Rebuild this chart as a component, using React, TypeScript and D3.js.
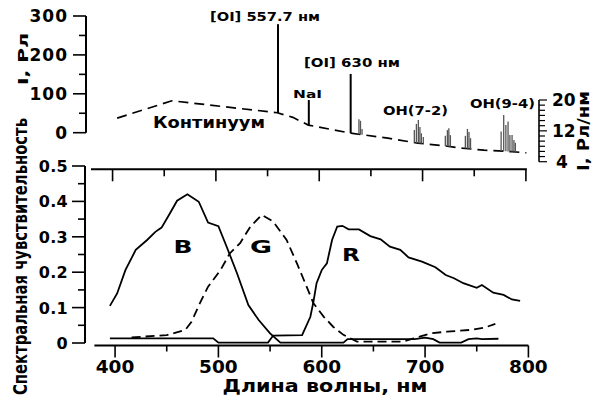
import React from 'react';
import * as d3 from 'd3';

const W = 594;
const H = 401;
const FONT = '"DejaVu Sans", Arial, sans-serif';

// spectral sensitivity (B, G, R channels)
const blueWl = [395, 402, 410, 420, 431, 439, 445, 453, 460, 470, 481, 490, 500, 508, 518, 529, 539, 550, 560, 621, 625, 690, 700, 708, 714, 735, 742, 750, 755, 771];
const blueVal = [0.105, 0.14, 0.206, 0.263, 0.291, 0.314, 0.326, 0.366, 0.402, 0.42, 0.399, 0.34, 0.33, 0.272, 0.197, 0.107, 0.065, 0.027, 0.001, 0.001, 0.011, 0.011, 0.015, 0.011, 0.001, 0.001, 0.011, 0.013, 0.011, 0.012];
const greenWl = [416, 450, 468, 474, 482, 490, 502, 511, 521, 531, 542, 553, 566, 576, 584, 592, 602, 611, 621, 634, 679, 689, 705, 721, 744, 757, 768];
const greenVal = [0.016, 0.022, 0.037, 0.06, 0.112, 0.159, 0.206, 0.253, 0.282, 0.329, 0.362, 0.343, 0.291, 0.225, 0.169, 0.112, 0.074, 0.046, 0.023, 0.004, 0.004, 0.013, 0.027, 0.032, 0.037, 0.043, 0.054];
const redWl = [395, 495, 500, 548, 553, 581, 589, 592, 595, 600, 605, 610, 615, 620, 626, 636, 647, 657, 666, 676, 684, 697, 710, 720, 728, 737, 750, 755, 766, 776, 784, 792];
const redVal = [0.013, 0.013, 0.001, 0.001, 0.021, 0.022, 0.074, 0.117, 0.169, 0.206, 0.225, 0.291, 0.329, 0.331, 0.321, 0.321, 0.302, 0.293, 0.272, 0.263, 0.242, 0.23, 0.214, 0.192, 0.183, 0.169, 0.156, 0.164, 0.142, 0.136, 0.123, 0.119];

// night sky continuum, Rl/nm (right axis)
const contWl = [402, 455, 557, 572, 587, 628, 664, 693, 716, 736, 757, 784, 798];
const contVal = [15.3, 19.8, 16.7, 15.5, 13.5, 11.4, 10.1, 8.8, 8.2, 7.5, 7.0, 6.6, 6.3];

// atomic emission lines, Rl (left axis)
const lineWl = [557.7, 587.5, 628];
const lineTop = [279, 84, 151];

// OH band lines, Rl/nm
const ohWl = [636, 637.5, 639, 689.6, 691.6, 693.5, 695, 696.4, 698.3, 719.6, 721.6, 723, 724.5, 739, 741, 742.5, 744, 773.6, 776.1, 778.2, 780.3, 782.1, 784.2, 786, 787.4];
const ohVal = [15.0, 14.6, 12.5, 12.2, 13.8, 14.8, 13.0, 11.4, 10.4, 10.7, 12.2, 12.7, 10.9, 10.7, 12.5, 11.7, 10.1, 11.8, 16.1, 13.5, 14.4, 10.9, 10.9, 9.6, 8.9];

const wlTicks = [400, 500, 600, 700, 800];
const sensTicks = [0, 0.1, 0.2, 0.3, 0.4, 0.5];
const rlTicks = [0, 100, 200, 300];
const rlnmTicks = [4, 12, 20];

export default function App() {
  const x = d3.scaleLinear().domain([380, 800]).range([94.4, 528.4]);
  const yS = d3.scaleLinear().domain([0, 0.5]).range([343, 166]);
  const yL = d3.scaleLinear().domain([0, 300]).range([132.7, 16]);
  const yR = d3.scaleLinear().domain([4, 20]).range([161.7, 100]);
  const cont = d3.scaleLinear().domain(contWl).range(contVal);

  const sensLine = d3.line<[number, number]>().x(d => x(d[0])).y(d => yS(d[1]));
  const contLine = d3.line<[number, number]>().x(d => x(d[0])).y(d => yR(d[1]));
  const zip = (a: number[], b: number[]) => a.map((v, i) => [v, b[i]] as [number, number]);

  const axisY = 345.5;
  const topY = 169.3;
  const bold = { fontFamily: FONT, fontWeight: 'bold' as const, fill: '#000' };

  return (
    <svg width={W} height={H} style={{ position: 'absolute', left: 0, top: 0, background: '#fff' }}>
      <rect width={W} height={H} fill="#fff" />

      {/* ---------- top panel: night sky spectrum ---------- */}
      <line x1={86} x2={86} y1={yL(300)} y2={yL(0)} stroke="#000" strokeWidth={2} />
      {d3.range(0, 301, 50).map(v => (
        <line key={'lt' + v} x1={v % 100 === 0 ? 73 : 79} x2={86} y1={yL(v)} y2={yL(v)} stroke="#000" strokeWidth={1.6} />
      ))}
      {rlTicks.map(v => (
        <text key={'ll' + v} x={68} y={yL(v) + 6} textAnchor="end" fontSize={17} letterSpacing={1} {...bold}>{v}</text>
      ))}
      <text transform="translate(28,59) rotate(-90)" textAnchor="middle" fontSize={14} textLength={52} lengthAdjust="spacingAndGlyphs" {...bold}>I, Рл</text>

      <line x1={539} x2={539} y1={yR(20)} y2={yR(4)} stroke="#000" strokeWidth={1.6} />
      {d3.range(0, 13).map(i => {
        const v = 4 + (i * 16) / 12;
        const major = i % 6 === 0;
        return <line key={'rt' + i} x1={539} x2={major ? 547 : 545} y1={yR(v)} y2={yR(v)} stroke="#000" strokeWidth={1.2} />;
      })}
      {rlnmTicks.map(v => (
        <text key={'rl' + v} x={v < 10 ? 556 : 552} y={yR(v) + 6} fontSize={17} {...bold}>{v}</text>
      ))}
      <text transform="translate(589,131) rotate(-90)" textAnchor="middle" fontSize={15} textLength={80} lengthAdjust="spacingAndGlyphs" {...bold}>I, Рл/нм</text>

      <path d={contLine(zip(contWl, contVal)) || ''} fill="none" stroke="#000" strokeWidth={1.7} strokeDasharray="10,6" />

      {ohWl.map((w, i) => (
        <line key={'oh' + i} x1={x(w)} x2={x(w)} y1={yR(cont(w))} y2={yR(ohVal[i])} stroke="#555" strokeWidth={1.3} />
      ))}
      {lineWl.map((w, i) => (
        <line key={'em' + i} x1={x(w)} x2={x(w)} y1={yR(cont(w))} y2={yL(lineTop[i])} stroke="#000" strokeWidth={2} />
      ))}

      <text x={210} y={21} fontSize={12} textLength={110} lengthAdjust="spacingAndGlyphs" {...bold}>[OI] 557.7 нм</text>
      <text x={293} y={98} fontSize={11} textLength={29} lengthAdjust="spacingAndGlyphs" {...bold}>NaI</text>
      <text x={304} y={67} fontSize={12} textLength={96} lengthAdjust="spacingAndGlyphs" {...bold}>[OI] 630 нм</text>
      <text x={383} y={114.5} fontSize={12.5} textLength={65} lengthAdjust="spacingAndGlyphs" {...bold}>OH(7-2)</text>
      <text x={470} y={107.5} fontSize={12.5} textLength={65} lengthAdjust="spacingAndGlyphs" {...bold}>OH(9-4)</text>
      <text x={153} y={128} fontSize={16} textLength={112} lengthAdjust="spacingAndGlyphs" {...bold}>Континуум</text>

      {/* ---------- bottom panel: spectral sensitivity ---------- */}
      <line x1={85} x2={85} y1={yS(0.5)} y2={yS(0)} stroke="#000" strokeWidth={2} />
      {d3.range(0, 11).map(i => (
        <line key={'st' + i} x1={i % 2 === 0 ? 72 : 78} x2={85} y1={yS(i * 0.05)} y2={yS(i * 0.05)} stroke="#000" strokeWidth={1.6} />
      ))}
      {sensTicks.map(v => (
        <text key={'sl' + v} x={68} y={yS(v) + 6} textAnchor="end" fontSize={16} letterSpacing={0.3} {...bold}>{v === 0 ? '0' : v.toFixed(1)}</text>
      ))}
      <text transform={`translate(27,${yS(0.25) + 2}) rotate(-90)`} textAnchor="middle" fontSize={19} textLength={277} lengthAdjust="spacingAndGlyphs" {...bold}>Спектральная чувствительность</text>

      {/* top frame with inward ticks */}
      <line x1={91} x2={x(800) - 1.5} y1={topY} y2={topY} stroke="#000" strokeWidth={2} />
      {d3.range(400, 801, 50).map(w => (
        <line key={'tt' + w} x1={x(w) - 2.5} x2={x(w) - 2.5} y1={topY} y2={topY + (w % 100 === 0 ? 12 : 7)} stroke="#000" strokeWidth={1.6} />
      ))}

      {/* bottom axis */}
      <line x1={x(380)} x2={x(800)} y1={axisY} y2={axisY} stroke="#000" strokeWidth={2} />
      {d3.range(400, 801, 50).map(w => (
        <line key={'bt' + w} x1={x(w)} x2={x(w)} y1={axisY} y2={axisY + (w % 100 === 0 ? 12 : 6)} stroke="#000" strokeWidth={1.6} />
      ))}
      {wlTicks.map(w => (
        <text key={'bl' + w} x={x(w)} y={373} textAnchor="middle" fontSize={18.5} {...bold}>{w}</text>
      ))}
      <text x={325} y={392} textAnchor="middle" fontSize={17.5} textLength={205} lengthAdjust="spacingAndGlyphs" {...bold}>Длина волны, нм</text>

      <path d={sensLine(zip(blueWl, blueVal)) || ''} fill="none" stroke="#000" strokeWidth={1.8} />
      <path d={sensLine(zip(redWl, redVal)) || ''} fill="none" stroke="#000" strokeWidth={1.8} />
      <path d={sensLine(zip(greenWl, greenVal)) || ''} fill="none" stroke="#000" strokeWidth={1.8} strokeDasharray="9,5" />

      <text x={183} y={253} textAnchor="middle" fontSize={17} textLength={19} lengthAdjust="spacingAndGlyphs" {...bold}>B</text>
      <text x={261} y={253} textAnchor="middle" fontSize={17} textLength={22} lengthAdjust="spacingAndGlyphs" {...bold}>G</text>
      <text x={351} y={261} textAnchor="middle" fontSize={18} textLength={18} lengthAdjust="spacingAndGlyphs" {...bold}>R</text>
    </svg>
  );
}
